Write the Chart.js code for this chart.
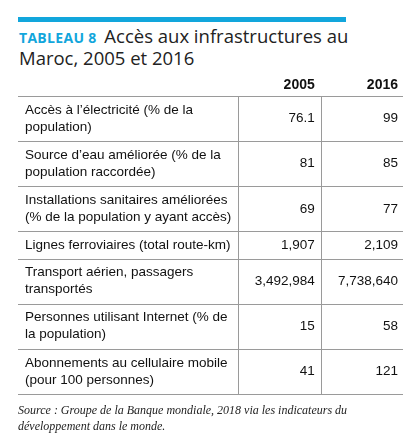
<!DOCTYPE html>
<html>
<head>
<meta charset="utf-8">
<script src="https://cdn.jsdelivr.net/npm/chart.js@4"></script>
<style>
  body { margin: 0; background: #fff; width: 417px; height: 445px; position: relative; overflow: hidden; }
  #bar { position: absolute; left: 18px; top: 17px; width: 328px; height: 5px; background: #12a6dc; }
  #title { position: absolute; left: 19px; top: 26px; font-family: 'Open Sans', sans-serif; font-size: 18.5px; line-height: 20px; color: #222; }
  #title b { color: #12a6dc; font-size: 14px; letter-spacing: 0.3px; margin-right: 3px; }
  #source { position: absolute; left: 18px; top: 402px; width: 392px; font-family: 'Liberation Serif', serif; font-style: italic; font-size: 12px; line-height: 16px; color: #222; }
  canvas { position: absolute; left: 0; top: 0; }
</style>
</head>
<body>
<div id="bar"></div>
<div id="title"><b>TABLEAU 8</b> Accès aux infrastructures au<br>Maroc, 2005 et 2016</div>
<canvas id="chart" width="417" height="445"></canvas>
<div id="source">Source : Groupe de la Banque mondiale, 2018 via les indicateurs du développement dans le monde.</div>
<script>
'use strict';

/*********** DATA ***********/
var years = ['2005', '2016'];
var rowLabels = [
  ['Accès à l\u2019électricité (% de la', 'population)'],
  ['Source d\u2019eau améliorée (% de la', 'population raccordée)'],
  ['Installations sanitaires améliorées', '(% de la population y ayant accès)'],
  ['Lignes ferroviaires (total route-km)'],
  ['Transport aérien, passagers', 'transportés'],
  ['Personnes utilisant Internet (% de', 'la population)'],
  ['Abonnements au cellulaire mobile', '(pour 100 personnes)']
];
var values2005 = ['76.1', '81', '69', '1,907', '3,492,984', '15', '41'];
var values2016 = ['99', '85', '77', '2,109', '7,738,640', '58', '121'];

/*********** SETUP ***********/
// row heights in "units": two-line rows are taller than single-line rows
var rowHeights = rowLabels.map(function (l) { return l.length > 1 ? 1 : 0.6; });
var rowTops = [];
var acc = 0;
for (var i = 0; i < rowHeights.length; i++) {
  rowTops.push(acc);
  acc += rowHeights[i];
}
var totalHeight = acc;

function rowPoints(col) {
  return rowHeights.map(function (h, i) { return { x: col, y: rowTops[i] + h / 2 }; });
}

var font = "'Liberation Sans Narrow', 'Liberation Sans', Arial, sans-serif";

var tablePlugin = {
  id: 'table',
  afterDraw: function (chart) {
    var ctx = chart.ctx;
    var area = chart.chartArea;
    var yScale = chart.scales.y;
    var xScale = chart.scales.x;
    var col1 = xScale.getPixelForValue(1);
    var col2 = xScale.getPixelForValue(2);
    ctx.save();
    ctx.strokeStyle = '#9a9a9a';
    ctx.lineWidth = 1;
    // horizontal lines
    for (var i = 0; i <= rowTops.length; i++) {
      var v = i < rowTops.length ? rowTops[i] : totalHeight;
      var y = Math.round(yScale.getPixelForValue(v)) + 0.5;
      ctx.beginPath();
      ctx.moveTo(area.left, y);
      ctx.lineTo(area.right, y);
      ctx.stroke();
    }
    // vertical lines
    [col1, col2].forEach(function (x) {
      x = Math.round(x) + 0.5;
      ctx.beginPath();
      ctx.moveTo(x, area.top);
      ctx.lineTo(x, area.bottom);
      ctx.stroke();
    });
    // header
    ctx.fillStyle = '#111';
    ctx.textBaseline = 'middle';
    ctx.textAlign = 'right';
    ctx.font = 'bold 14px ' + font;
    ctx.fillText(years[0], col2 - 6, area.top - 11);
    ctx.fillText(years[1], area.right - 5, area.top - 11);
    // cells
    ctx.font = '13.5px ' + font;
    var labelMeta = chart.getDatasetMeta(0);
    var m05 = chart.getDatasetMeta(1);
    var m16 = chart.getDatasetMeta(2);
    for (var r = 0; r < rowLabels.length; r++) {
      var cy = labelMeta.data[r].y;
      var lines = rowLabels[r];
      ctx.textAlign = 'left';
      for (var k = 0; k < lines.length; k++) {
        ctx.fillText(lines[k], area.left + 7, cy + (k - (lines.length - 1) / 2) * 17);
      }
      ctx.textAlign = 'right';
      ctx.fillText(values2005[r], col2 - 6, m05.data[r].y);
      ctx.fillText(values2016[r], area.right - 5, m16.data[r].y);
    }
    ctx.restore();
  }
};

new Chart(document.getElementById('chart').getContext('2d'), {
  type: 'scatter',
  data: {
    datasets: [
      { label: 'labels', data: rowPoints(0.5), pointRadius: 0 },
      { label: years[0], data: rowPoints(1.5), pointRadius: 0 },
      { label: years[1], data: rowPoints(2.5), pointRadius: 0 }
    ]
  },
  options: {
    responsive: false,
    animation: false,
    layout: { padding: { left: 18, right: 14, top: 96, bottom: 51 } },
    plugins: { legend: { display: false }, tooltip: { enabled: false } },
    scales: {
      // x: column 0 (labels) is wider than the two value columns
      x: { type: 'linear', display: false, min: -1.68, max: 3 },
      y: { type: 'linear', display: false, reverse: true, min: 0, max: totalHeight }
    }
  },
  plugins: [tablePlugin]
});
</script>
</body>
</html>
